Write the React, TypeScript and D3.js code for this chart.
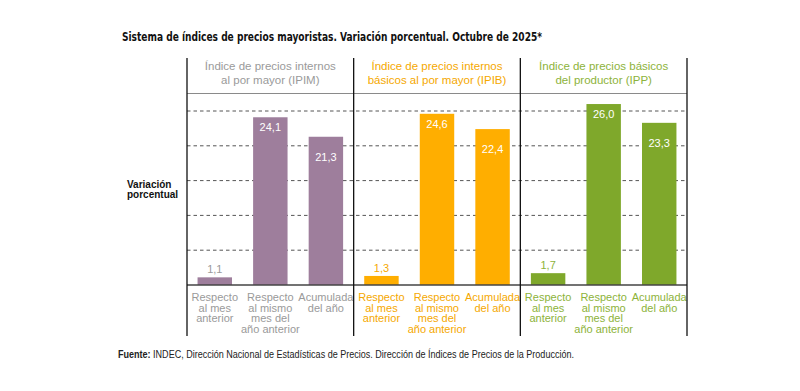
import * as d3 from 'd3';
import React from 'react';

// chart data
const groups = ["IPIM", "IPIB", "IPP"];
const groupTitles = [
    ["Índice de precios internos", "al por mayor (IPIM)"],
    ["Índice de precios internos", "básicos al por mayor (IPIB)"],
    ["Índice de precios básicos", "del productor (IPP)"],
];
const categories = ["mes", "interanual", "acumulada"];
const categoryLabels = [
    ["Respecto", "al mes", "anterior"],
    ["Respecto", "al mismo", "mes del", "año anterior"],
    ["Acumulada", "del año"],
];
const ipimValues = [1.1, 24.1, 21.3];
const ipibValues = [1.3, 24.6, 22.4];
const ippValues = [1.7, 26.0, 23.3];
const gridTicks = [5, 10, 15, 20, 25];

const seriesValues = [ipimValues, ipibValues, ippValues];
const barColors = ["#9e7e9c", "#ffae00", "#7fa82b"];
const textColors = ["#9a9a9a", "#f5a800", "#8db33a"];

const title = "Sistema de índices de precios mayoristas. Variación porcentual. Octubre de 2025*";
const fontFamily = "'Liberation Sans', Arial, Helvetica, sans-serif";

const locale = d3.formatLocale({ decimal: ",", thousands: ".", grouping: [3], currency: ["", ""] });
const fmt = locale.format(".1f");

const App = () => {
    const width = 800;
    const height = 391;

    const plot = { left: 187, right: 687, top: 58, header: 93.5, base: 285, bottom: 336 };

    const x = d3.scaleBand<string>().domain(groups).range([plot.left, plot.right]).padding(0);
    const xInner = d3
        .scaleBand<string>()
        .domain(categories)
        .range([0, x.bandwidth()])
        .paddingInner(0.38)
        .paddingOuter(0.19);
    const y = d3.scaleLinear().domain([0, 25]).range([plot.base, 111]);

    const separators = [...groups.map((g) => x(g) as number), plot.right];

    return (
        <svg
            width={width}
            height={height}
            style={{ position: "absolute", left: 0, top: 0, background: "#fff" }}
            fontFamily={fontFamily}
        >
            <text
                x={122}
                y={41}
                fontFamily="'Liberation Sans Narrow', 'DejaVu Sans Condensed', sans-serif"
                fontWeight="bold"
                fontSize={12.5}
                textLength={420}
                lengthAdjust="spacingAndGlyphs"
                fill="#111"
            >
                {title}
            </text>

            {/* dashed grid */}
            <g>
                {gridTicks.map((t) => (
                    <line
                        key={t}
                        x1={plot.left}
                        x2={plot.right}
                        y1={y(t)}
                        y2={y(t)}
                        stroke="#555"
                        strokeWidth={1}
                        strokeDasharray="3.5,3"
                    />
                ))}
            </g>

            {/* header line */}
            <line x1={plot.left} x2={plot.right} y1={plot.header} y2={plot.header} stroke="#8a8a8a" strokeWidth={1.2} />

            {groups.map((g, gi) => {
                const gx = x(g) as number;
                const cx = gx + x.bandwidth() / 2;
                return (
                    <g key={g}>
                        {groupTitles[gi].map((line, li) => (
                            <text
                                key={li}
                                x={cx}
                                y={70 + li * 14}
                                textAnchor="middle"
                                fontSize={11.5}
                                fill={textColors[gi]}
                            >
                                {line}
                            </text>
                        ))}
                        {categories.map((c, ci) => {
                            const v = seriesValues[gi][ci];
                            const bx = gx + (xInner(c) as number);
                            const bw = xInner.bandwidth();
                            const top = y(v);
                            const small = v < 5;
                            return (
                                <g key={c}>
                                    <rect x={bx} y={top} width={bw} height={plot.base - top} fill={barColors[gi]} />
                                    <text
                                        x={bx + bw / 2}
                                        y={small ? top - 4 : top + (ci === 2 ? 24 : 14)}
                                        textAnchor="middle"
                                        fontSize={11}
                                        fill={small ? textColors[gi] : "#fff"}
                                    >
                                        {fmt(v)}
                                    </text>
                                    {categoryLabels[ci].map((line, li) => (
                                        <text
                                            key={li}
                                            x={bx + bw / 2}
                                            y={301 + li * 10.7}
                                            textAnchor="middle"
                                            fontSize={11}
                                            fill={textColors[gi]}
                                        >
                                            {line}
                                        </text>
                                    ))}
                                </g>
                            );
                        })}
                    </g>
                );
            })}

            {/* baseline */}
            <line x1={plot.left} x2={plot.right} y1={plot.base} y2={plot.base} stroke="#444" strokeWidth={1.5} />

            {/* vertical separators */}
            {separators.map((sx, i) => (
                <line key={i} x1={sx} x2={sx} y1={plot.top} y2={plot.bottom} stroke="#111" strokeWidth={1.3} />
            ))}

            <text x={127} y={188} fontSize={10} fontWeight="bold" fill="#111">
                Variación
            </text>
            <text x={127} y={197.5} fontSize={10} fontWeight="bold" fill="#111">
                porcentual
            </text>

            <text x={118} y={357.5} fontSize={10} fill="#222" textLength={456} lengthAdjust="spacingAndGlyphs">
                <tspan fontWeight="bold">Fuente:</tspan>
                <tspan> INDEC, Dirección Nacional de Estadísticas de Precios. Dirección de Índices de Precios de la Producción.</tspan>
            </text>
        </svg>
    );
};

export default App;
